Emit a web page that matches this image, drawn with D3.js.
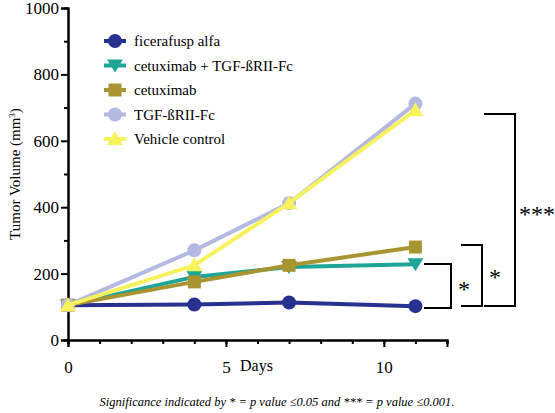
<!DOCTYPE html><html><head><script src="https://cdn.jsdelivr.net/npm/d3@7"></script>
<style>body{margin:0;background:#fff}svg text{font-family:"Liberation Serif","Times New Roman",Times,serif !important}</style></head><body>
<svg id="c" width="555" height="413" font-family="Liberation Serif"></svg>
<script>
const days=[0,4,7,11];
const names=["ficerafusp alfa","cetuximab + TGF-ßRII-Fc","cetuximab","TGF-ßRII-Fc","Vehicle control"];
const colors=["#27318f","#1fa598","#a99432","#b3b9e0","#f7f25c"];
const shapes=["circle","tridown","square","circle","triup"];
const ficera=[105,107,113,102];
const cetuxTgf=[105,190,220,228];
const cetux=[105,175,225,280];
const tgf=[105,270,412,712];
const vehicle=[105,225,412,692];
const series=[ficera,cetuxTgf,cetux,tgf,vehicle];
const yTicks=[0,200,400,600,800,1000];
const xTicks=[0,5,10];
const svg=d3.select("#c");
const x=d3.scaleLinear().domain([0,12]).range([68,447]);
const y=d3.scaleLinear().domain([0,1000]).range([340,8]);
svg.append("g").attr("transform","translate(68,0)").call(d3.axisLeft(y).tickValues(yTicks).tickSize(7).tickPadding(2).tickFormat(d3.format("d")));
svg.append("g").attr("transform","translate(68,0)").call(d3.axisLeft(y).tickValues(d3.range(100,1000,200)).tickSize(4).tickFormat(""));
svg.append("g").attr("transform","translate(0,340)").call(d3.axisBottom(x).tickValues(d3.range(0,13)).tickSize(4).tickFormat(""));
svg.append("g").attr("transform","translate(0,340)").call(d3.axisBottom(x).tickValues(xTicks).tickSize(7).tickPadding(14));
svg.selectAll("g").attr("font-family","Liberation Serif");
svg.selectAll(".domain").attr("stroke","#000").attr("stroke-width",2);
svg.selectAll(".tick line").attr("stroke","#000").attr("stroke-width",2);
svg.selectAll(".tick text").attr("font-size",17).attr("fill","#000");
svg.append("text").attr("x",240).attr("y",371).attr("font-size",16).text("Days");
svg.append("text").attr("transform","translate(20,174) rotate(-90)").attr("text-anchor","middle").attr("font-size",15).html('Tumor Volume (mm<tspan dy="-5" font-size="9">3</tspan><tspan dy="5">)</tspan>');
function marker(g,s,c,cx,cy){
 if(s=="circle")g.append("circle").attr("cx",cx).attr("cy",cy).attr("r",7).attr("fill",c);
 else if(s=="square")g.append("rect").attr("x",cx-6.5).attr("y",cy-6.5).attr("width",13).attr("height",13).attr("fill",c);
 else if(s=="triup")g.append("path").attr("d",`M${cx},${cy-8}L${cx+8},${cy+6}L${cx-8},${cy+6}Z`).attr("fill",c);
 else g.append("path").attr("d",`M${cx},${cy+7}L${cx+8},${cy-6}L${cx-8},${cy-6}Z`).attr("fill",c);
}
const line=d3.line().x((d,i)=>x(days[i])).y(d=>y(d));
series.forEach((s,k)=>{
 const g=svg.append("g");
 g.append("path").attr("d",line(s)).attr("fill","none").attr("stroke",colors[k]).attr("stroke-width",4);
 s.forEach((v,i)=>marker(g,shapes[k],colors[k],x(days[i]),y(v)));
});
names.forEach((n,k)=>{
 const ly=41+k*24.5, g=svg.append("g");
 g.append("line").attr("x1",104).attr("x2",126).attr("y1",ly).attr("y2",ly).attr("stroke",colors[k]).attr("stroke-width",4);
 marker(g,shapes[k],colors[k],115,ly);
 g.append("text").attr("x",134).attr("y",ly+5).attr("font-size",15).text(n);
});
const br=[[424,451,264,308,458,297,"*"],[461,482,245,306,489,285,"*"],[484,515,114,306,519,222,"***"]];
br.forEach(b=>{
 svg.append("path").attr("d",`M${b[0]},${b[2]}H${b[1]}V${b[3]}H${b[0]}`).attr("fill","none").attr("stroke","#000").attr("stroke-width",2);
 svg.append("text").attr("x",b[4]).attr("y",b[5]).attr("font-size",24).text(b[6]);
});
svg.append("text").attr("x",277).attr("y",406).attr("text-anchor","middle").attr("font-size",12.5).attr("font-style","italic").text("Significance indicated by * = p value ≤0.05 and *** = p value ≤0.001.");
</script></body></html>
